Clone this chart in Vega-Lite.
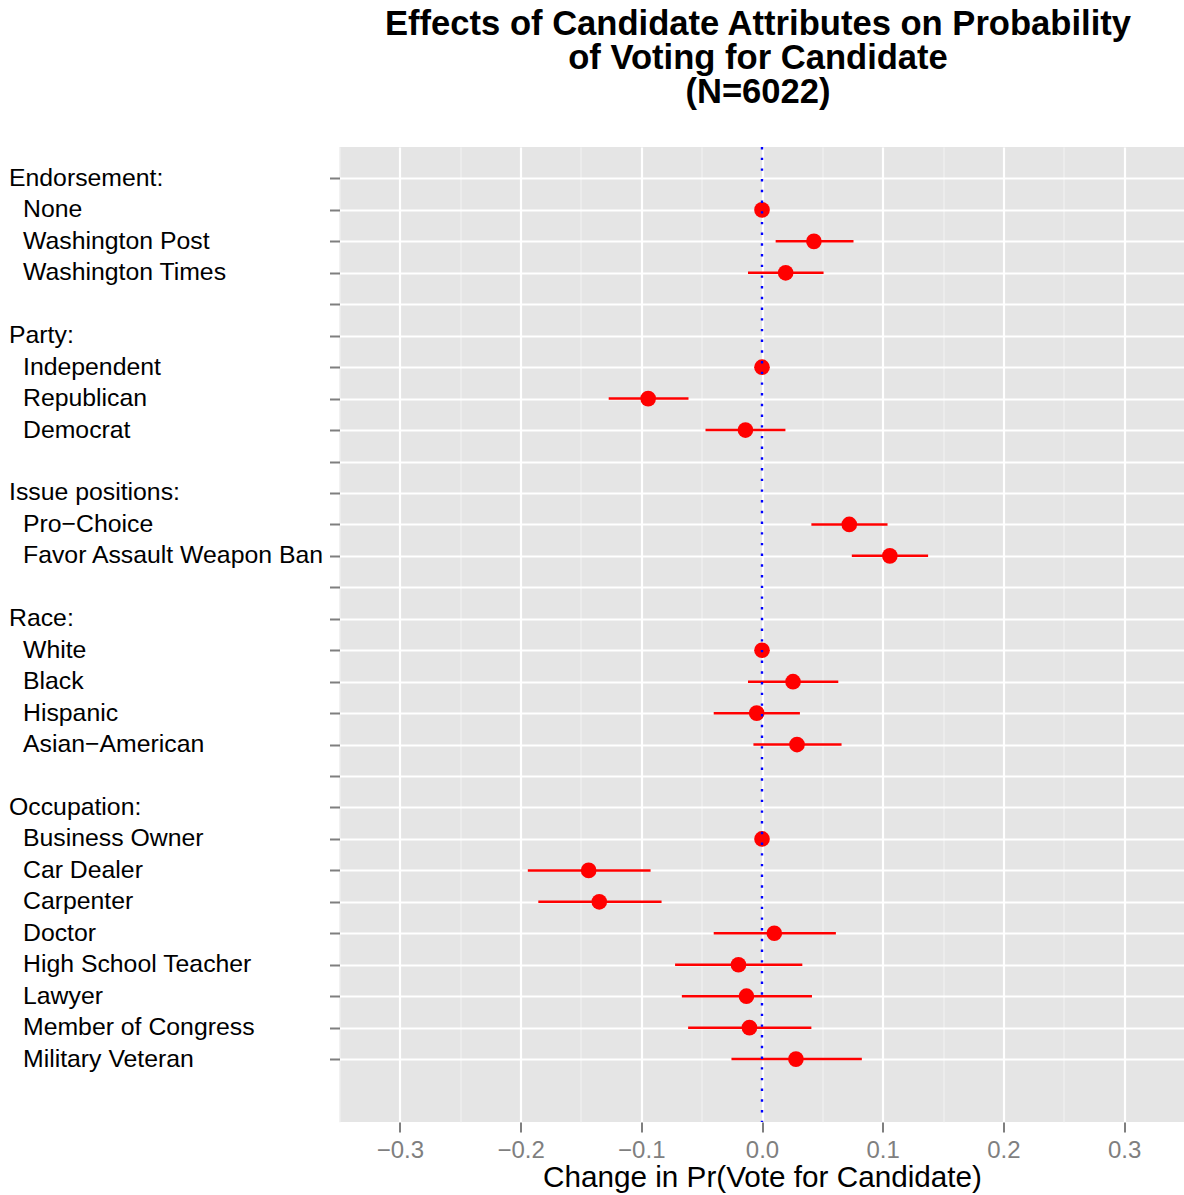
{
  "$schema": "https://vega.github.io/schema/vega-lite/v6.json",
  "autosize": {"type": "none"},
  "padding": {"left": 339.5, "top": 147, "right": 0, "bottom": 73},
  "width": 845,
  "height": 975,
  "title": {
    "text": ["Effects of Candidate Attributes on Probability", "of Voting for Candidate", "(N=6022)"],
    "font": "Liberation Sans",
    "fontSize": 34.6,
    "fontWeight": "bold",
    "lineHeight": 34,
    "anchor": "middle",
    "frame": "group",
    "color": "#000000",
    "offset": 35,
    "dx": -4
  },
  "config": {
    "font": "Liberation Sans",
    "view": {"fill": "#E5E5E5", "stroke": null},
    "axis": {"domain": false, "gridColor": "#FFFFFF", "gridWidth": 2.2, "tickColor": "#7F7F7F", "tickWidth": 2}
  },
  "data": {
    "values": [
      {"label": "None", "est": 0, "lo": 0, "hi": 0},
      {"label": "Washington Post", "est": 0.043, "lo": 0.0113, "hi": 0.0758},
      {"label": "Washington Times", "est": 0.0196, "lo": -0.0116, "hi": 0.051},
      {"label": "Independent", "est": 0, "lo": 0, "hi": 0},
      {"label": "Republican", "est": -0.0943, "lo": -0.127, "hi": -0.0609},
      {"label": "Democrat", "est": -0.0137, "lo": -0.0468, "hi": 0.0194},
      {"label": "Pro−Choice", "est": 0.0723, "lo": 0.0409, "hi": 0.104},
      {"label": "Favor Assault Weapon Ban", "est": 0.1059, "lo": 0.0744, "hi": 0.1376},
      {"label": "White", "est": 0, "lo": 0, "hi": 0},
      {"label": "Black", "est": 0.0257, "lo": -0.0116, "hi": 0.0632},
      {"label": "Hispanic", "est": -0.0044, "lo": -0.04, "hi": 0.0314},
      {"label": "Asian−American", "est": 0.029, "lo": -0.0071, "hi": 0.0659},
      {"label": "Business Owner", "est": 0, "lo": 0, "hi": 0},
      {"label": "Car Dealer", "est": -0.1436, "lo": -0.194, "hi": -0.0923},
      {"label": "Carpenter", "est": -0.1348, "lo": -0.1853, "hi": -0.0832},
      {"label": "Doctor", "est": 0.0102, "lo": -0.04, "hi": 0.0612},
      {"label": "High School Teacher", "est": -0.0195, "lo": -0.072, "hi": 0.0334},
      {"label": "Lawyer", "est": -0.0129, "lo": -0.0664, "hi": 0.0414},
      {"label": "Member of Congress", "est": -0.0104, "lo": -0.0612, "hi": 0.0409},
      {"label": "Military Veteran", "est": 0.0281, "lo": -0.0253, "hi": 0.0827}
    ]
  },
  "layer": [
    {
      "mark": {"type": "rule", "color": "#FF0000", "strokeWidth": 2.5},
      "encoding": {
        "x": {
          "field": "lo", "type": "quantitative",
          "scale": {"domain": [-0.35, 0.35], "nice": false, "zero": false},
          "axis": {"orient": "top", "values": [-0.35, -0.25, -0.15, -0.05, 0.05, 0.15, 0.25, 0.35], "grid": true, "gridColor": "#F2F2F2", "gridWidth": 1.1, "labels": false, "ticks": false, "domain": false, "title": null}
        },
        "x2": {"field": "hi"},
        "y": {
          "field": "label", "type": "nominal",
          "scale": {"type": "point", "padding": 1, "domain": ["Endorsement:", "None", "Washington Post", "Washington Times", "gap1", "Party:", "Independent", "Republican", "Democrat", "gap2", "Issue positions:", "Pro−Choice", "Favor Assault Weapon Ban", "gap3", "Race:", "White", "Black", "Hispanic", "Asian−American", "gap4", "Occupation:", "Business Owner", "Car Dealer", "Carpenter", "Doctor", "High School Teacher", "Lawyer", "Member of Congress", "Military Veteran", "gap5"]},
          "axis": {
            "values": ["Endorsement:", "None", "Washington Post", "Washington Times", "gap1", "Party:", "Independent", "Republican", "Democrat", "gap2", "Issue positions:", "Pro−Choice", "Favor Assault Weapon Ban", "gap3", "Race:", "White", "Black", "Hispanic", "Asian−American", "gap4", "Occupation:", "Business Owner", "Car Dealer", "Carpenter", "Doctor", "High School Teacher", "Lawyer", "Member of Congress", "Military Veteran"],
            "labelExpr": "indexof(datum.value, 'gap') == 0 ? '' : datum.value",
            "title": null,
            "grid": true,
            "labelAlign": "left",
            "labelBaseline": "middle",
            "labelFontSize": 24.8,
            "labelColor": "#000000",
            "labelPadding": {"condition": {"test": "indexof(datum.value, ':') > 0", "value": 321}, "value": 307},
            "labelLimit": 500,
            "labelOverlap": false,
            "tickSize": 10
          }
        }
      }
    },
    {
      "mark": {"type": "point", "filled": true, "shape": "circle", "color": "#FF0000", "size": 245, "opacity": 1},
      "encoding": {
        "x": {
          "field": "est", "type": "quantitative",
          "scale": {"domain": [-0.35, 0.35], "nice": false, "zero": false},
          "axis": {
            "orient": "bottom",
            "values": [-0.3, -0.2, -0.1, 0, 0.1, 0.2, 0.3],
            "format": ".1f",
            "grid": true,
            "labelFontSize": 24,
            "labelColor": "#7F7F7F",
            "labelPadding": 6,
            "tickSize": 10,
            "title": "Change in Pr(Vote for Candidate)",
            "titleFontSize": 29.7,
            "titleFontWeight": "normal",
            "titleColor": "#000000",
            "titlePadding": 1
          }
        },
        "y": {
          "field": "label", "type": "nominal",
          "scale": {"type": "point", "padding": 1, "domain": ["Endorsement:", "None", "Washington Post", "Washington Times", "gap1", "Party:", "Independent", "Republican", "Democrat", "gap2", "Issue positions:", "Pro−Choice", "Favor Assault Weapon Ban", "gap3", "Race:", "White", "Black", "Hispanic", "Asian−American", "gap4", "Occupation:", "Business Owner", "Car Dealer", "Carpenter", "Doctor", "High School Teacher", "Lawyer", "Member of Congress", "Military Veteran", "gap5"]}
        }
      }
    },
    {
      "data": {"values": [{"zero": 0}]},
      "mark": {"type": "rule", "color": "#0000FF", "strokeWidth": 2.4, "strokeDash": [2.4, 8.3]},
      "encoding": {
        "x": {"field": "zero", "type": "quantitative", "scale": {"domain": [-0.35, 0.35], "nice": false, "zero": false}, "axis": null}
      }
    }
  ],
  "resolve": {"axis": {"x": "independent"}}
}
